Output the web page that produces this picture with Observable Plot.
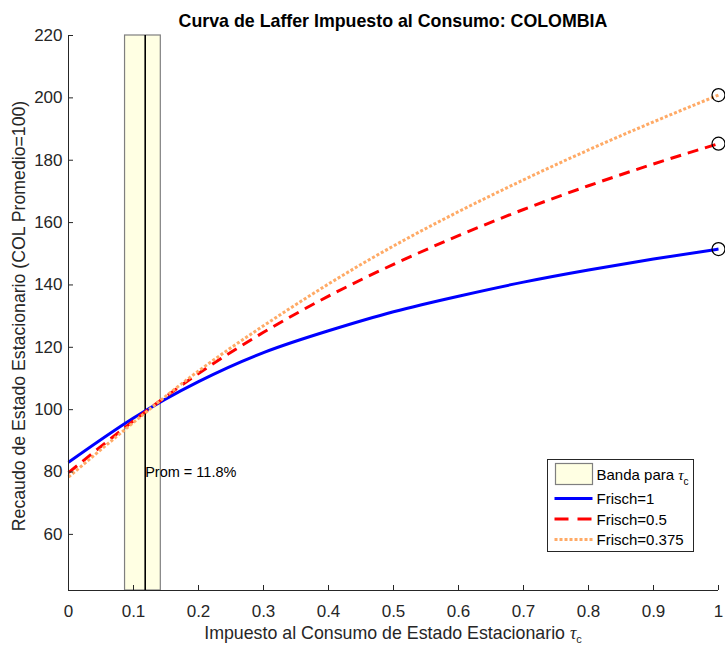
<!DOCTYPE html>
<html>
<head>
<meta charset="utf-8">
<script src="https://cdn.jsdelivr.net/npm/d3@7"></script>
<script src="https://cdn.jsdelivr.net/npm/@observablehq/plot@0.6"></script>
<style>
  html, body { margin: 0; padding: 0; background: #fff; }
  #chart { position: relative; width: 725px; height: 647px; }
</style>
</head>
<body>
<div id="chart"></div>
<script>
// ---- data ----
const tau = [0, 0.1, 0.2, 0.3, 0.4, 0.5, 0.6, 0.7, 0.8, 0.9, 1.0];
const frisch1   = [83.1, 97.3, 109.0, 118.3, 125.3, 131.4, 136.4, 140.9, 144.8, 148.3, 151.5];
const frisch05  = [79.8, 96.4, 111.6, 124.8, 136.4, 146.6, 155.8, 164.2, 171.8, 178.8, 185.3];
const frisch0375= [78.4, 95.9, 112.4, 126.9, 140.3, 152.5, 163.5, 173.7, 183.3, 192.3, 200.9];
const seriesNames = ["Frisch=1", "Frisch=0.5", "Frisch=0.375"];
const seriesValues = [frisch1, frisch05, frisch0375];
const seriesColors = ["#0000ff", "#ff0000", "#ffaa66"];
const seriesDash = [null, "11,7", "3,2"];
const legendDash = [null, "14,9", "3,2"];
const bandLo = 0.087, bandHi = 0.142, promedio = 0.118;
const promLabel = "Prom = 11.8%";
const promLabelY = 80;
const xTicks = [0, 0.1, 0.2, 0.3, 0.4, 0.5, 0.6, 0.7, 0.8, 0.9, 1];
const xTickLabels = ["0", "0.1", "0.2", "0.3", "0.4", "0.5", "0.6", "0.7", "0.8", "0.9", "1"];
const yTicks = [60, 80, 100, 120, 140, 160, 180, 200, 220];
const title = "Curva de Laffer Impuesto al Consumo: COLOMBIA";
const yLabel = "Recaudo de Estado Estacionario (COL Promedio=100)";
const xLabel = "Impuesto al Consumo de Estado Estacionario ";
const bandLegend = "Banda para ";

const rows = [];
seriesNames.forEach((name, i) => tau.forEach((t, j) => rows.push({series: name, x: t, y: seriesValues[i][j]})));
const ends = seriesNames.map((name, i) => ({series: name, x: tau[tau.length - 1], y: seriesValues[i][tau.length - 1]}));

const font = "'Liberation Sans', Arial, Helvetica, sans-serif";
const serif = "'Liberation Serif', 'DejaVu Serif', serif";
const ink = "#262626";

const lineMarks = seriesNames.map((name, i) => Plot.line(rows.filter(d => d.series === name), {
  x: "x", y: "y", curve: "natural",
  stroke: seriesColors[i], strokeWidth: 3,
  strokeDasharray: seriesDash[i] || undefined,
  strokeLinecap: "butt"
}));

const chart = Plot.plot({
  width: 725, height: 647,
  marginLeft: 68, marginRight: 7, marginTop: 35, marginBottom: 57,
  style: {fontFamily: font, fontSize: "17px", color: ink, background: "white", overflow: "visible"},
  x: {domain: [0, 1]},
  y: {domain: [42, 220]},
  marks: [
    Plot.rect([{x1: bandLo, x2: bandHi}], {x1: "x1", x2: "x2", fill: "#ffffe3", stroke: "#7f7f7f", strokeWidth: 1.2}),
    Plot.ruleX([promedio], {stroke: "#000", strokeWidth: 1.6}),
    ...lineMarks,
    Plot.dot(ends, {x: "x", y: "y", r: 6.5, stroke: "#000", strokeWidth: 1.2, fill: "none"}),
    Plot.text([promLabel], {x: promedio, y: promLabelY, textAnchor: "start", fill: "#000", fontSize: 14.5}),
    Plot.axisX(xTicks, {tickSize: -5, tickPadding: 19, fontSize: 17, tickFormat: (d, i) => xTickLabels[i], label: null, stroke: ink, fill: ink}),
    Plot.axisY(yTicks, {tickSize: -5, tickPadding: 11, fontSize: 17, label: null, stroke: ink, fill: ink}),
    Plot.ruleX([0], {stroke: ink}),
    Plot.ruleY([42], {stroke: ink})
  ]
});

document.getElementById("chart").appendChild(chart);

// ---- titles & labels ----
const svg = d3.select(chart);
svg.append("text")
  .attr("x", 393).attr("y", 26.5)
  .attr("text-anchor", "middle")
  .attr("font-family", font).attr("font-size", 17.8).attr("font-weight", "bold")
  .attr("fill", "#000")
  .text(title);

svg.append("text")
  .attr("transform", "translate(25,316) rotate(-90)")
  .attr("text-anchor", "middle")
  .attr("font-family", font).attr("font-size", 17.7)
  .attr("fill", ink)
  .text(yLabel);

const xl = svg.append("text")
  .attr("x", 393).attr("y", 639)
  .attr("text-anchor", "middle")
  .attr("font-family", font).attr("font-size", 17.8)
  .attr("fill", ink);
xl.append("tspan").text(xLabel);
xl.append("tspan").attr("font-family", serif).attr("font-style", "italic").text("τ");
xl.append("tspan").attr("font-size", 11).attr("dy", 4).text("c");

// ---- legend ----
const lg = svg.append("g").attr("transform", "translate(547.5,459.5)");
lg.append("rect").attr("width", 146).attr("height", 92).attr("fill", "#fff").attr("stroke", "#262626").attr("stroke-width", 1);
lg.append("rect").attr("x", 8).attr("y", 4).attr("width", 37).attr("height", 21)
  .attr("fill", "#ffffe3").attr("stroke", "#7f7f7f").attr("stroke-width", 1.2);
const bt = lg.append("text").attr("x", 49).attr("y", 20)
  .attr("text-anchor", "start")
  .attr("font-family", font).attr("font-size", 15).attr("fill", "#000");
bt.append("tspan").text(bandLegend);
bt.append("tspan").attr("font-family", serif).attr("font-style", "italic").text("τ");
bt.append("tspan").attr("font-size", 10).attr("dy", 5).text("c");
seriesNames.forEach((name, i) => {
  const yy = 39 + i * 20.5;
  lg.append("line").attr("x1", 7).attr("x2", 45).attr("y1", yy).attr("y2", yy)
    .attr("stroke", seriesColors[i]).attr("stroke-width", 3)
    .attr("stroke-dasharray", legendDash[i]);
  lg.append("text").attr("x", 49).attr("y", yy + 5.5)
    .attr("text-anchor", "start")
    .attr("font-family", font).attr("font-size", 15).attr("fill", "#000")
    .text(name);
});
</script>
</body>
</html>
